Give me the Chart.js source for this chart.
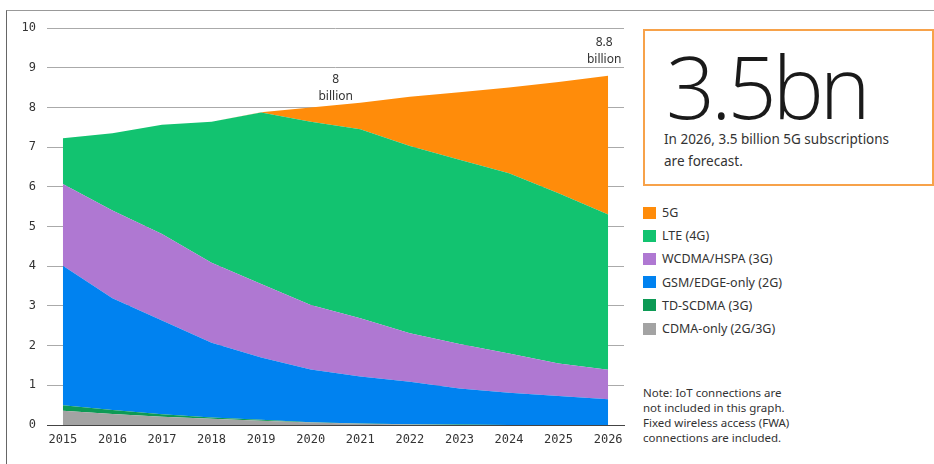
<!DOCTYPE html>
<html>
<head>
<meta charset="utf-8">
<title>Mobile subscriptions by technology</title>
<script src="https://cdn.jsdelivr.net/npm/chart.js@4.4.1/dist/chart.umd.min.js"></script>
<style>
    html, body { margin: 0; padding: 0; background: #fff; }
    body {
        width: 934px; height: 464px; position: relative; overflow: hidden;
        font-family: "Noto Sans", "Open Sans", sans-serif; color: #333;
    }
    .frame {
        position: absolute; left: 6px; top: 10px; right: -2px; bottom: -2px;
        border-left: 1px solid #666; border-top: 1px solid #999;
    }
    #chart-wrap { position: absolute; left: 0; top: 0; width: 640px; height: 464px; }
    .callout {
        position: absolute; left: 643px; top: 29px; width: 291px; height: 157px;
        box-sizing: border-box; border: 2px solid #f7a24a; background: #fff;
    }
    .callout .big {
        position: absolute; left: 21px; top: 5px;
        font-family: "Open Sans", "Noto Sans", sans-serif; font-weight: 300;
        font-size: 86px; line-height: 100px; letter-spacing: -4px; color: #1a1a1a;
    }
    .callout .sub {
        position: absolute; left: 19px; top: 98px;
        font-size: 13.5px; line-height: 21.5px; color: #333;
    }
    #legend { position: absolute; left: 643px; top: 201px; }
    .legend-item { height: 23.2px; display: flex; align-items: center; font-size: 12.5px; color: #333; }
    .legend-item span.box { width: 13px; height: 12px; margin-right: 6px; }
    .note {
        position: absolute; left: 643px; top: 386px;
        font-size: 11.5px; line-height: 14.9px; color: #333;
    }
</style>
</head>
<body>
<div class="frame"></div>
<div id="chart-wrap"><canvas id="subsChart"></canvas></div>

<div class="callout">
    <div class="big">3.5bn</div>
    <div class="sub">In 2026, 3.5 billion 5G subscriptions<br>are forecast.</div>
</div>

<div id="legend"></div>

<div class="note">
    Note: IoT connections are<br>
    not included in this graph.<br>
    Fixed wireless access (FWA)<br>
    connections are included.
</div>

<script>
// Subscriptions in billions, per year
const years = [2015, 2016, 2017, 2018, 2019, 2020, 2021, 2022, 2023, 2024, 2025, 2026];

const cdma    = [0.36, 0.28, 0.21, 0.16, 0.11, 0.06, 0.03, 0.01, 0, 0, 0, 0];
const tdscdma = [0.14, 0.10, 0.06, 0.03, 0.02, 0.01, 0.01, 0.01, 0.01, 0, 0, 0];
const gsm     = [3.51, 2.81, 2.36, 1.88, 1.57, 1.33, 1.18, 1.07, 0.91, 0.81, 0.73, 0.65];
const wcdma   = [2.06, 2.21, 2.18, 2.02, 1.85, 1.62, 1.47, 1.22, 1.12, 0.99, 0.82, 0.74];
const lte     = [1.15, 1.95, 2.75, 3.55, 4.32, 4.62, 4.76, 4.72, 4.64, 4.54, 4.29, 3.91];
const fiveG   = [0, 0, 0, 0, 0.01, 0.36, 0.67, 1.24, 1.70, 2.16, 2.80, 3.50];

const yTicks = [0, 1, 2, 3, 4, 5, 6, 7, 8, 9, 10];

// stacked bottom to top
const series = [
    { name: 'CDMA-only (2G/3G)', color: '#a3a3a3', values: cdma },
    { name: 'TD-SCDMA (3G)', color: '#0d9a55', values: tdscdma },
    { name: 'GSM/EDGE-only (2G)', color: '#0082f0', values: gsm },
    { name: 'WCDMA/HSPA (3G)', color: '#af78d2', values: wcdma },
    { name: 'LTE (4G)', color: '#12c370', values: lte },
    { name: '5G', color: '#ff8c0a', values: fiveG }
];

// years that get a total callout above the stack
const totalLabelYears = [2020, 2026];

function totalFor(year) {
    const i = years.indexOf(year);
    const sum = series.reduce((acc, s) => acc + s.values[i], 0);
    return Math.round(sum * 10) / 10;
}

// Legend, top layer first
const legendEl = document.getElementById('legend');
series.slice().reverse().forEach(s => {
    const item = document.createElement('div');
    item.className = 'legend-item';
    item.innerHTML = `<span class="box" style="background:${s.color}"></span>${s.name}`;
    legendEl.appendChild(item);
});

const labelOffsets = {
    2020: { dx: 25, dy: 11 },
    2026: { dx: -4, dy: 16 }
};

const totalLabels = {
    id: 'totalLabels',
    afterDatasetsDraw(chart) {
        const { ctx, scales: { x, y } } = chart;
        ctx.save();
        ctx.font = '12px "Noto Sans", sans-serif';
        ctx.fillStyle = '#333';
        ctx.textAlign = 'center';
        ctx.textBaseline = 'middle';
        totalLabelYears.forEach(year => {
            const total = totalFor(year);
            const off = labelOffsets[year];
            const px = x.getPixelForValue(year) + off.dx;
            const py = y.getPixelForValue(total) - off.dy;
            ctx.fillText(String(total), px, py - 17);
            ctx.fillText('billion', px, py);
        });
        ctx.restore();
    }
};

const monoFont = { family: '"DejaVu Sans Mono", monospace', size: 12 };

new Chart(document.getElementById('subsChart'), {
    type: 'line',
    data: {
        datasets: series.map((s, i) => ({
            label: s.name,
            data: years.map((yr, j) => ({ x: yr, y: s.values[j] })),
            backgroundColor: s.color,
            borderColor: s.color,
            borderWidth: 0,
            pointRadius: 0,
            tension: 0,
            fill: i === 0 ? 'origin' : '-1'
        }))
    },
    options: {
        responsive: true,
        maintainAspectRatio: false,
        animation: false,
        layout: { padding: { top: 28, right: 16, left: 0, bottom: 0 } },
        plugins: {
            legend: { display: false },
            tooltip: { enabled: false }
        },
        scales: {
            x: {
                type: 'linear',
                min: 2014.68,
                max: 2026.32,
                afterBuildTicks: scale => { scale.ticks = years.map(v => ({ value: v })); },
                afterFit: scale => { scale.height = 39; },
                grid: { display: false, drawTicks: false },
                border: { display: true, color: '#444', width: 1 },
                ticks: { font: monoFont, color: '#333', padding: 8, maxRotation: 0, callback: v => String(v) }
            },
            y: {
                stacked: true,
                min: 0,
                max: 10,
                afterBuildTicks: scale => { scale.ticks = yTicks.map(v => ({ value: v })); },
                afterFit: scale => { scale.width = 47; },
                grid: {
                    drawTicks: false,
                    color: ctx => (ctx.tick && ctx.tick.value === 0 ? '#444' : '#aaaaaa'),
                    lineWidth: 1
                },
                border: { display: false },
                ticks: { font: monoFont, color: '#333', padding: 11 }
            }
        }
    },
    plugins: [totalLabels]
});
</script>
</body>
</html>
